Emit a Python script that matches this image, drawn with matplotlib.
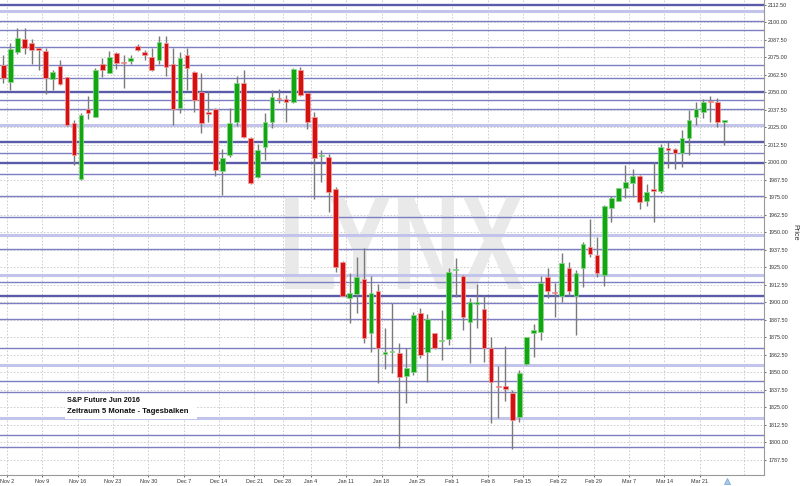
import numpy as np
import matplotlib
matplotlib.use("Agg")
import matplotlib.pyplot as plt
from matplotlib.textpath import TextPath
from matplotlib.patches import PathPatch, Rectangle
from matplotlib.font_manager import FontProperties
from matplotlib.transforms import Affine2D

# daily bars, S&P future Jun 2016, Oct 30 2015 .. Mar 24 2016 (trading-day index)
opens = [2069.5, 2057.5, 2079.0, 2088.0, 2085.4, 2081.4, 2079.5, 2059.5, 2068.7, 2060.7,
         2028.2, 1988.0, 2038.1, 2032.6, 2070.2, 2064.0, 2078.2, 2071.4, 2072.3, 2083.2,
         2079.0, 2075.4, 2073.0, 2085.0, 2070.0, 2039.0, 2076.6, 2064.7, 2050.0, 2035.4,
         2038.0, 1994.0, 2004.9, 2029.0, 2056.8, 2017.1, 1989.7, 2011.1, 2028.5, 2045.7,
         2045.2, 2042.8, 2065.9, 2049.3, 2032.6, 2004.3, 2004.0, 1980.7, 1929.1, 1902.9,
         1906.0, 1916.7, 1878.0, 1908.1, 1863.4, 1864.5, 1864.1, 1847.7, 1850.0, 1892.2,
         1864.3, 1877.9, 1872.2, 1873.9, 1922.8, 1919.1, 1886.2, 1899.0, 1895.3, 1867.2,
         1840.1, 1840.6, 1835.6, 1818.4, 1855.8, 1878.0, 1879.1, 1917.9, 1907.2, 1904.6,
         1924.3, 1904.8, 1924.3, 1939.3, 1933.8, 1919.6, 1967.2, 1972.6, 1981.9, 1985.5,
         1990.2, 1972.6, 1980.7, 1979.7, 2010.0, 2009.5, 2006.9, 2017.1, 2032.1, 2036.1,
         2043.8, 2042.8, 2028.8]
highs = [2076.6, 2085.4, 2095.7, 2095.7, 2087.8, 2082.5, 2081.8, 2065.9, 2073.0, 2061.2,
         2030.2, 2035.0, 2047.5, 2067.5, 2074.2, 2079.7, 2079.0, 2076.6, 2076.6, 2084.2,
         2080.2, 2081.4, 2090.2, 2090.2, 2081.4, 2079.0, 2081.4, 2065.2, 2063.5, 2051.1,
         2038.7, 2009.5, 2038.6, 2061.6, 2065.9, 2018.0, 2013.1, 2035.0, 2051.6, 2052.1,
         2048.0, 2067.5, 2068.2, 2051.1, 2035.7, 2008.8, 2005.7, 1982.6, 1929.5, 1921.2,
         1932.2, 1938.6, 1919.1, 1913.1, 1881.5, 1899.8, 1870.8, 1867.2, 1893.4, 1895.8,
         1891.7, 1878.4, 1894.6, 1924.3, 1931.5, 1919.5, 1902.9, 1913.1, 1905.3, 1875.5,
         1854.8, 1868.9, 1837.5, 1851.7, 1875.5, 1884.4, 1918.9, 1924.3, 1914.1, 1935.1,
         1929.1, 1923.1, 1943.4, 1959.3, 1946.6, 1969.5, 1976.0, 1981.8, 1998.1, 1995.0,
         1990.9, 1984.5, 2000.4, 2013.1, 2014.7, 2010.0, 2023.1, 2037.4, 2043.3, 2045.0,
         2047.5, 2045.7, 2029.7]
lows = [2056.8, 2051.6, 2077.3, 2077.3, 2070.2, 2065.9, 2048.5, 2051.6, 2055.2, 2026.0,
        1998.0, 1987.5, 2030.7, 2032.0, 2061.1, 2063.5, 2066.6, 2053.2, 2070.0, 2079.7,
        2073.0, 2065.2, 2070.2, 2061.6, 2026.6, 2035.0, 2051.6, 2036.1, 2021.1, 2029.0,
        1990.2, 1976.7, 2004.0, 2026.0, 2017.1, 1984.5, 1989.0, 2001.6, 2024.7, 2042.5,
        2029.0, 2042.1, 2047.5, 2023.6, 1973.6, 1986.2, 1964.3, 1921.9, 1904.3, 1885.1,
        1892.7, 1870.8, 1864.8, 1842.3, 1852.3, 1849.4, 1795.9, 1827.9, 1848.2, 1860.1,
        1843.4, 1866.8, 1858.9, 1869.6, 1904.1, 1880.2, 1856.6, 1881.5, 1857.7, 1813.7,
        1817.7, 1829.6, 1795.2, 1814.4, 1855.5, 1861.3, 1873.1, 1902.9, 1889.8, 1900.5,
        1904.6, 1876.7, 1911.2, 1932.6, 1917.9, 1911.8, 1957.6, 1972.2, 1974.7, 1975.5,
        1966.4, 1968.8, 1957.6, 1977.9, 1995.7, 1995.0, 1996.9, 2005.2, 2026.6, 2031.4,
        2029.0, 2025.0, 2012.4]
closes = [2060.0, 2080.9, 2089.0, 2081.4, 2080.2, 2080.2, 2060.0, 2064.7, 2055.7, 2026.6,
          2005.2, 2033.8, 2035.0, 2065.9, 2065.9, 2075.0, 2070.7, 2070.7, 2074.2, 2080.2,
          2076.6, 2065.9, 2086.1, 2068.2, 2037.8, 2074.2, 2067.5, 2044.5, 2027.8, 2034.5,
          1994.5, 2002.9, 2028.1, 2056.8, 2017.9, 1985.4, 2008.8, 2029.0, 2046.4, 2045.0,
          2042.8, 2066.6, 2048.0, 2029.0, 2002.9, 2005.0, 1979.0, 1925.5, 1904.8, 1906.9,
          1918.0, 1874.4, 1906.9, 1867.2, 1864.2, 1865.3, 1847.0, 1853.4, 1891.0, 1862.4,
          1887.9, 1867.2, 1872.9, 1921.9, 1923.4, 1889.8, 1900.1, 1899.6, 1867.2, 1843.4,
          1839.5, 1838.0, 1816.1, 1849.4, 1875.5, 1880.5, 1914.1, 1908.4, 1906.6, 1928.0,
          1908.4, 1921.2, 1941.5, 1934.3, 1920.7, 1968.8, 1974.3, 1981.4, 1985.7, 1990.2,
          1971.9, 1979.0, 1979.7, 2010.7, 2008.8, 2006.9, 2017.6, 2030.2, 2038.1, 2042.8,
          2042.8, 2029.0, 2029.2]

# week starts (index of first trading day) and their labels
week_idx = [1, 6, 11, 16, 21, 26, 31, 36, 40, 44, 49, 54, 59, 64, 69, 74, 79, 84, 89, 94, 99]
week_labels = ["Nov 2", "Nov 9", "Nov 16", "Nov 23", "Nov 30", "Dec 7", "Dec 14", "Dec 21",
               "Dec 28", "Jan 4", "Jan 11", "Jan 18", "Jan 25", "Feb 1", "Feb 8", "Feb 15",
               "Feb 22", "Feb 29", "Mar 7", "Mar 14", "Mar 21"]

# horizontal support / resistance levels drawn on the chart
levels = [2112.5, 2108.2, 2100.6, 2094.4, 2082.3, 2069.2, 2060.0, 2050.4, 2044.5, 2038.1,
          2026.4, 2014.7, 2006.9, 1999.7, 1991.4, 1975.7, 1960.7, 1948.3, 1937.9, 1919.8,
          1914.8, 1904.8, 1899.8, 1888.0, 1867.3, 1855.3, 1843.7, 1836.1, 1817.8, 1805.3,
          1796.7]
level_kind = ["thick", "light", "mid", "mid", "mid", "mid", "mid", "thick", "mid", "mid",
              "light", "thick", "mid", "thick", "mid", "mid", "mid", "light", "mid", "light",
              "mid", "thick", "mid", "mid", "mid", "light", "mid", "mid", "light", "mid",
              "mid"]

title_lines = ["S&P Future Jun 2016", "Zeitraum 5 Monate - Tagesbalken"]

styles = {"thick": ("#5a5caa", 1.7), "mid": ("#7c7ec2", 1.0), "light": ("#c3c4ec", 2.2)}

W, H = 800, 486
fig = plt.figure(figsize=(8, 4.86), dpi=100)
ax = fig.add_axes([0, 11 / H, 764 / W, 475 / H])

n = len(opens)
x = np.arange(n)
o = np.array(opens); h = np.array(highs); l = np.array(lows); c = np.array(closes)
up = c >= o

ax.set_xlim(-0.47, 107.6)
ax.set_ylim(1776.8, 2115.85)

# grid
yt = np.arange(1787.5, 2113, 12.5)
for v in yt:
    ax.axhline(v, color="#c8c8c8", lw=0.6, ls=(0, (2, 2)), zorder=0)
for w in week_idx + [105.3]:
    ax.axvline(w - 0.5, color="#c8c8c8", lw=0.6, ls=(0, (2, 2)), zorder=0)

# watermark, condensed bold letters stretched into their box (pixels)
tp = TextPath((0, 0), "LYNX", size=1, prop=FontProperties(family="Liberation Sans", weight="bold"))
bb = tp.get_extents()
tr = (Affine2D().translate(-bb.x0, -bb.y0)
      .scale(238 / bb.width / W, 92 / bb.height / H)
      .translate(285 / W, (H - 289) / H) + fig.transFigure)
ax.add_patch(PathPatch(tp, transform=tr, fc="#e9e9e9", ec="none", zorder=0.5))

for lv, k in zip(levels, level_kind):
    col, lw = styles[k]
    ax.axhline(lv, color=col, lw=lw, zorder=1)

# candles
ax.vlines(x, l, h, color="#7a7a7a", lw=1.0, zorder=2)
body_lo = np.minimum(o, c)
body_h = np.maximum(np.abs(c - o), 1.1)
cols = np.where(up, "#12a612", "#d41010")
edges = np.where(up, "#8fd88f", "#f2a0a0")
ax.bar(x, body_h, bottom=body_lo, width=0.66, color=cols, edgecolor=edges, lw=0.5, zorder=3)

ax.plot([x[-1] + 0.3], [1772.5], marker="^", ms=5, color="#a9cbea", mec="#7fa8d6", mew=0.6,
        clip_on=False, zorder=4)

# axes styling
for s in ["left", "top"]:
    ax.spines[s].set_visible(False)
for s in ["right", "bottom"]:
    ax.spines[s].set_color("#999999")
    ax.spines[s].set_linewidth(0.8)
ax.yaxis.tick_right()
ax.set_yticks(yt)
ax.set_yticklabels(["%.2f" % v for v in yt], family="Liberation Sans")
ax.set_xticks(np.array(week_idx) - 0.5)
ax.set_xticklabels(week_labels, family="Liberation Sans")
ax.tick_params(axis="both", labelsize=3.9, colors="#333333", length=1.5, width=0.5, pad=1.5)
ax.tick_params(axis="y", pad=1.5)

fig.text(795 / W, 1 - 232 / H, "Price", rotation=270, fontsize=5.2, color="#333333",
         ha="center", va="center", family="Liberation Sans")

# caption box (white panel covering the level lines)
ax.add_patch(Rectangle((65 / W, 1 - 419 / H), 132 / W, 25 / H, transform=fig.transFigure,
                       fc="white", ec="none", zorder=4.5))
fig.text(67 / W, 1 - 400.5 / H, title_lines[0], fontsize=5.2, fontweight="bold",
         color="#111111", ha="left", va="center", family="Liberation Sans", zorder=6)
fig.text(67 / W, 1 - 411 / H, title_lines[1], fontsize=5.6, fontweight="bold",
         color="#111111", ha="left", va="center", family="Liberation Sans", zorder=6)

fig.savefig("out.png", dpi=100)
